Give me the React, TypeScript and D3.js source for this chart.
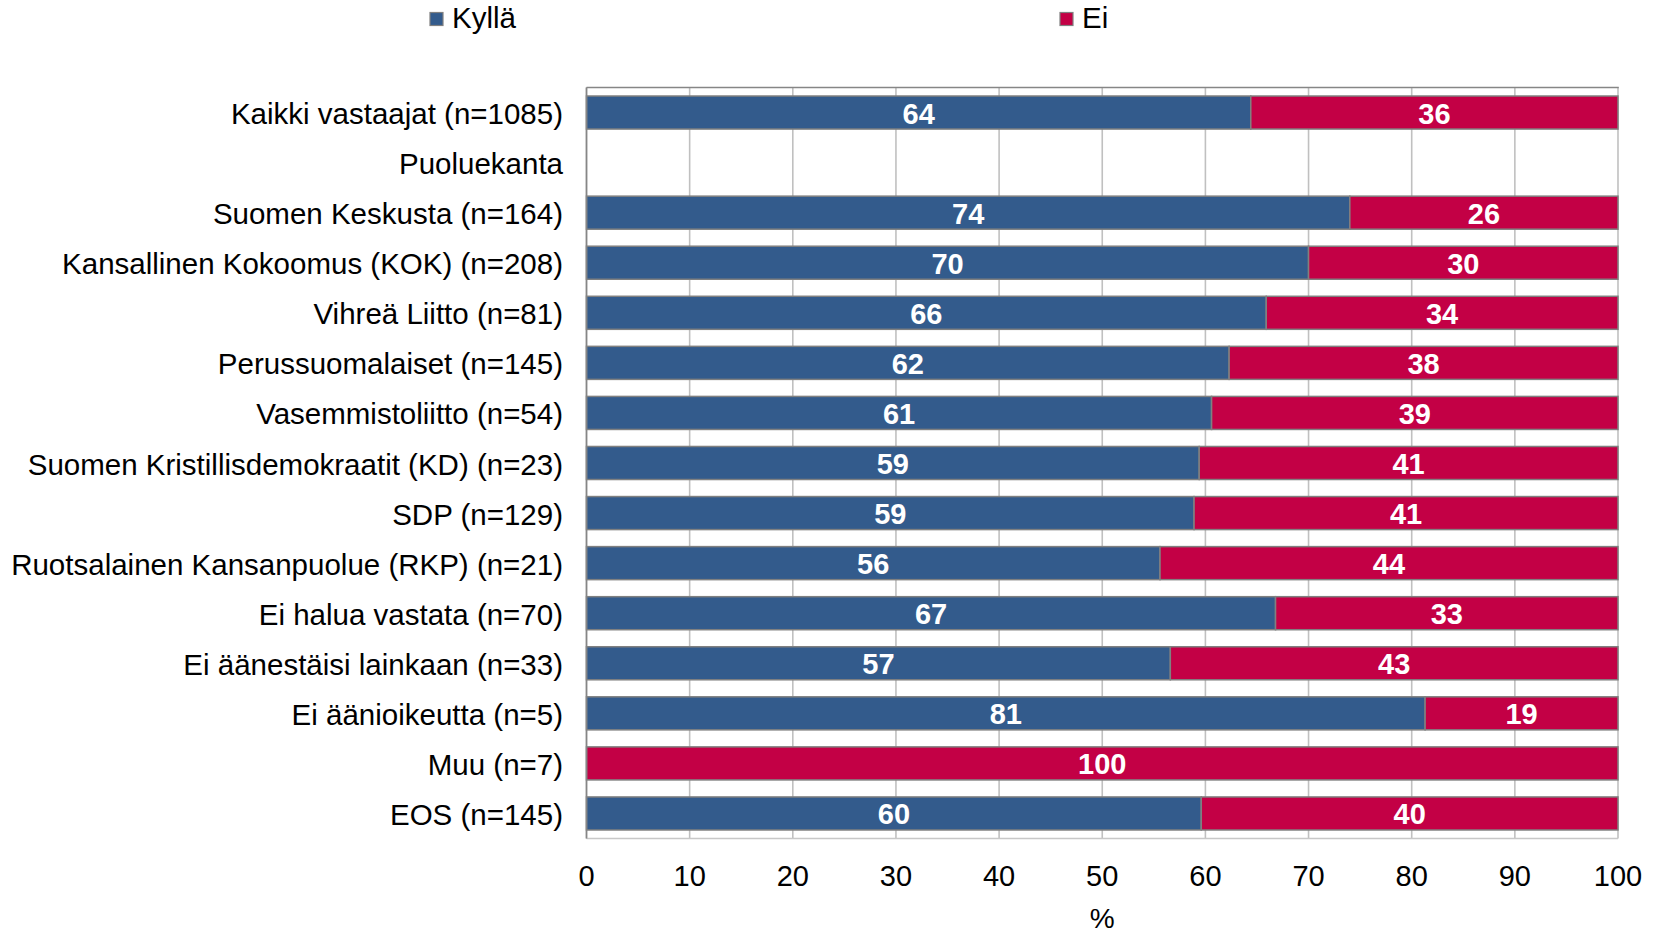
import React from "react";
import * as d3 from "d3";

const categories = [
  "Kaikki vastaajat (n=1085)",
  "Puoluekanta",
  "Suomen Keskusta (n=164)",
  "Kansallinen Kokoomus (KOK) (n=208)",
  "Vihreä Liitto (n=81)",
  "Perussuomalaiset (n=145)",
  "Vasemmistoliitto (n=54)",
  "Suomen Kristillisdemokraatit (KD) (n=23)",
  "SDP (n=129)",
  "Ruotsalainen Kansanpuolue (RKP) (n=21)",
  "Ei halua vastata (n=70)",
  "Ei äänestäisi lainkaan (n=33)",
  "Ei äänioikeutta (n=5)",
  "Muu (n=7)",
  "EOS (n=145)",
];

const kylla: (number | null)[] = [64.4, null, 74.0, 70.0, 65.9, 62.3, 60.6, 59.4, 58.9, 55.6, 66.8, 56.6, 81.3, 0, 59.6];
const ei: (number | null)[] = [35.6, null, 26.0, 30.0, 34.1, 37.7, 39.4, 40.6, 41.1, 44.4, 33.2, 43.4, 18.7, 100, 40.4];

const seriesNames = ["Kyllä", "Ei"];
const seriesColors = ["#335B8C", "#C30045"];
const xTicks = [0, 10, 20, 30, 40, 50, 60, 70, 80, 90, 100];
const xTitle = "%";

const W = 1664;
const H = 933;
const FONT = "'Liberation Sans', Arial, Helvetica, sans-serif";

export default function App() {
  const left = 586.5;
  const right = 1618;
  const top = 87.5;
  const bottom = 838.5;
  const x = d3.scaleLinear().domain([0, 100]).range([left, right]);
  const y = d3
    .scaleBand<string>()
    .domain(categories)
    .range([top, bottom])
    .paddingInner(0.34)
    .paddingOuter(0.17);
  const bw = y.bandwidth();

  const stack = categories.map((c, i) => {
    const k = kylla[i];
    const e = ei[i];
    if (k == null || e == null) return [];
    return [
      { s: 0, x0: 0, x1: k, v: k },
      { s: 1, x0: k, x1: k + e, v: e },
    ];
  });

  return (
    <div style={{ position: "absolute", left: 0, top: 0, width: W, height: H, overflow: "hidden", background: "#fff" }}>
      <svg width={W} height={H} style={{ display: "block", fontFamily: FONT }}>
        <rect x={0} y={0} width={W} height={H} fill="#fff" />
        {/* gridlines */}
        {xTicks.map((t) => (
          <line key={"g" + t} x1={x(t)} x2={x(t)} y1={top} y2={bottom} stroke="#C0C0C0" strokeWidth={1.6} />
        ))}
        <line x1={left} x2={right} y1={bottom} y2={bottom} stroke="#C8C8C8" strokeWidth={1.6} />
        <line x1={left} x2={right + 0.8} y1={top} y2={top} stroke="#868686" strokeWidth={1.6} />
        {/* bars */}
        {stack.map((segs, i) =>
          segs.map((sg) =>
            sg.v > 0 ? (
              <rect
                key={i + "-" + sg.s}
                x={x(sg.x0)}
                y={y(categories[i])!}
                width={x(sg.x1) - x(sg.x0)}
                height={bw}
                fill={seriesColors[sg.s]}
                stroke="#808080"
                strokeWidth={1.5}
              />
            ) : null
          )
        )}
        {/* left axis line */}
        <line x1={left} x2={left} y1={top} y2={bottom} stroke="#868686" strokeWidth={1.6} />
        {/* data labels */}
        {stack.map((segs, i) =>
          segs.map((sg) =>
            sg.v > 0 ? (
              <text
                key={"l" + i + "-" + sg.s}
                x={(x(sg.x0) + x(sg.x1)) / 2}
                y={y(categories[i])! + bw / 2 + 11}
                textAnchor="middle"
                fill="#fff"
                fontWeight="bold"
                fontSize={29}
              >
                {Math.round(sg.v)}
              </text>
            ) : null
          )
        )}
        {/* category labels */}
        {categories.map((c) => (
          <text key={"c" + c} x={563} y={y(c)! + bw / 2 + 11.5} textAnchor="end" fontSize={29.5} fill="#000">
            {c}
          </text>
        ))}
        {/* x tick labels */}
        {xTicks.map((t) => (
          <text key={"t" + t} x={x(t)} y={886} textAnchor="middle" fontSize={29} fill="#000">
            {t}
          </text>
        ))}
        <text x={(left + right) / 2} y={928} textAnchor="middle" fontSize={28} fill="#000">
          {xTitle}
        </text>
        {/* legend */}
        {seriesNames.map((s, i) => {
          const lx = i === 0 ? 430 : 1060;
          return (
            <g key={"leg" + s}>
              <rect x={lx} y={12.5} width={13} height={13} fill={seriesColors[i]} stroke="#808080" strokeWidth={1.2} />
              <text x={lx + 22} y={28} fontSize={29.5} fill="#000">
                {s}
              </text>
            </g>
          );
        })}
      </svg>
    </div>
  );
}
